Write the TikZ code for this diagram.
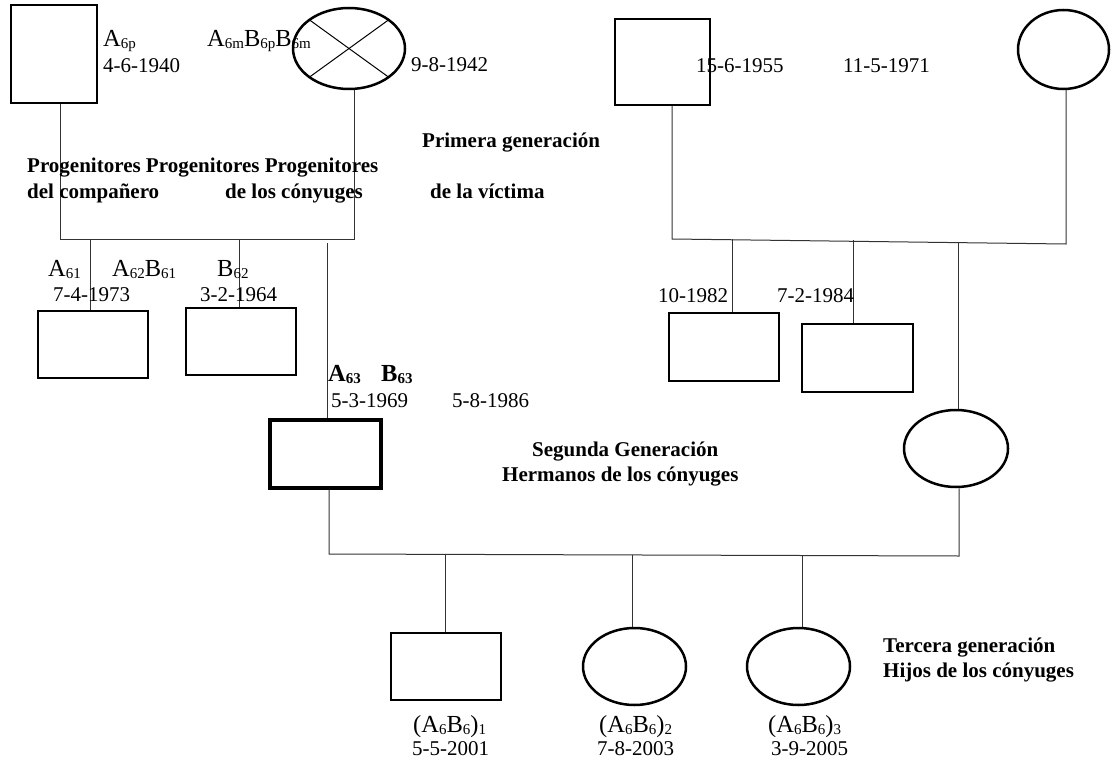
\documentclass[tikz,border=0pt]{standalone}
\usepackage{fontspec}
\setmainfont{Liberation Serif}
\usetikzlibrary{shapes.geometric}

\newcommand\datefont{\fontsize{21}{25}\selectfont}
\newcommand\letterfont{\fontsize{24.5}{28}\selectfont}
\newcommand\lowidx[1]{\raisebox{-2pt}{\fontsize{15}{15}\selectfont #1}}

\begin{document}
\begin{tikzpicture}[x=1pt,y=-1pt,
  male/.style={draw,rectangle,line width=2.5pt,inner sep=0pt},
  female/.style={draw,ellipse,line width=2.5pt,inner sep=0pt},
  link/.style={line width=1pt,black!80},
  lbl/.style={anchor=base west,inner sep=0pt,font=\datefont},
  tag/.style={anchor=base west,inner sep=0pt,font=\letterfont},
  head/.style={anchor=base west,inner sep=0pt,font=\datefont\bfseries}]
\useasboundingbox (0,0) rectangle (1113,765);

% first generation
\node[male,minimum width=86pt,minimum height=98pt] (abuA) at (54,54) {};
\node[female,minimum width=112pt,minimum height=81pt] (abuB) at (349,48.5) {};
\draw[line width=1pt] ([shift={(135:56 and 40.5)}]abuB.center) -- ([shift={(-45:56 and 40.5)}]abuB.center);
\draw[line width=1pt] ([shift={(45:56 and 40.5)}]abuB.center) -- ([shift={(225:56 and 40.5)}]abuB.center);
\node[male,minimum width=95pt,minimum height=86pt] (abuC) at (662.5,62) {};
\node[female,minimum width=91pt,minimum height=79pt] (abuD) at (1063.5,49.5) {};

% second generation
\node[male,minimum width=110pt,minimum height=67pt] (hermA) at (93,344.5) {};
\node[male,minimum width=110pt,minimum height=67pt] (hermB) at (241,341.5) {};
\node[male,line width=4pt,minimum width=111pt,minimum height=68pt] (conyA) at (325.5,454) {};
\node[male,minimum width=110pt,minimum height=68pt] (hermC) at (724,347) {};
\node[male,minimum width=111pt,minimum height=68pt] (hermD) at (857.5,358) {};
\node[female,minimum width=104pt,minimum height=77pt] (conyB) at (956,448.5) {};

% third generation
\node[male,minimum width=110pt,minimum height=67pt] (hijo1) at (446,666.5) {};
\node[female,minimum width=103pt,minimum height=77pt] (hijo2) at (634.5,666.5) {};
\node[female,minimum width=103pt,minimum height=77pt] (hijo3) at (798.5,666.5) {};

\coordinate (bar1l) at (60,239);
\coordinate (bar1r) at (354,239);
\coordinate (bar2l) at (672,239);
\coordinate (bar2r) at (1066,244);
\coordinate (bar3l) at (329,554);
\coordinate (bar3r) at (959,556);
\coordinate (k1) at (90,239);
\coordinate (k2) at (239,239);
\coordinate (k3) at (327,243);
\coordinate (k4) at (732,239);
\coordinate (k5) at (853,240);
\coordinate (k6) at (958,243);
\coordinate (k7) at (445,554);
\coordinate (k8) at (632,555);
\coordinate (k9) at (802,555);

\draw[link] (abuA.south -| bar1l) -- (bar1l) -- (bar1r) -- (abuB.south -| bar1r);
\draw[link] (abuC.south -| bar2l) -- (bar2l) -- (bar2r) -- (abuD.south -| bar2r);
\draw[link] (conyA.south -| bar3l) -- (bar3l) -- (bar3r) -- (conyB.south -| bar3r);

\draw[link] (k1) -- (k1 |- hermA.north);
\draw[link] (k2) -- (k2 |- hermB.north);
\draw[link] (k3) -- (k3 |- conyA.north);
\draw[link] (k4) -- (k4 |- hermC.north);
\draw[link] (k5) -- (k5 |- hermD.north);
\draw[link] (k6) -- (k6 |- conyB.north);
\draw[link] (k7) -- (k7 |- hijo1.north);
\draw[link] (k8) -- (k8 |- hijo2.north);
\draw[link] (k9) -- (k9 |- hijo3.north);

% labels
\node[tag] (tA6p) at (103,47) {A\lowidx{6p}};
\node[lbl] (dA6p) at (103,72.7) {4-6-1940};
\node[tag] (tA6m) at (207,47) {A\lowidx{6m}B\lowidx{6p}B\lowidx{6m}};
\node[lbl] (dB6m) at (411,72) {9-8-1942};
\node[lbl] (dC) at (696,73) {15-6-1955};
\node[lbl] (dD) at (843,73) {11-5-1971};

\node[head] (gen1) at (422,147) {Primera generación};
\node[head] (prog) at (27,172) {Progenitores Progenitores Progenitores};
\node[head] (progA) at (27,198) {del compañero};
\node[head] (progB) at (225,198) {de los cónyuges};
\node[head] (progC) at (430,198) {de la víctima};

\node[tag] (tA61) at (48,276) {A\lowidx{61}};
\node[tag] (tA62) at (112,276) {A\lowidx{62}B\lowidx{61}};
\node[tag] (tB62) at (217,276) {B\lowidx{62}};
\node[lbl] (dA61) at (53,301) {7-4-1973};
\node[lbl] (dB62) at (200,301) {3-2-1964};
\node[lbl] (dC1) at (658,302) {10-1982};
\node[lbl] (dC2) at (777,302) {7-2-1984};

\node[tag,font=\letterfont\bfseries] (tA63) at (328,381) {A\lowidx{63}};
\node[tag,font=\letterfont\bfseries] (tB63) at (381,381) {B\lowidx{63}};
\node[lbl] (dA63) at (331,407) {5-3-1969};
\node[lbl] (dB63) at (452,407) {5-8-1986};

\node[head] (gen2) at (532,456) {Segunda Generación};
\node[head] (gen2b) at (502,481) {Hermanos de los cónyuges};
\node[head] (gen3) at (883,652) {Tercera generación};
\node[head] (gen3b) at (883,677) {Hijos de los cónyuges};

\node[tag] (th1) at (413,732) {(A\lowidx{6}B\lowidx{6})\lowidx{1}};
\node[lbl] (dh1) at (412,755) {5-5-2001};
\node[tag] (th2) at (599,732) {(A\lowidx{6}B\lowidx{6})\lowidx{2}};
\node[lbl] (dh2) at (597,755) {7-8-2003};
\node[tag] (th3) at (768,732) {(A\lowidx{6}B\lowidx{6})\lowidx{3}};
\node[lbl] (dh3) at (771,755) {3-9-2005};
\end{tikzpicture}
\end{document}
